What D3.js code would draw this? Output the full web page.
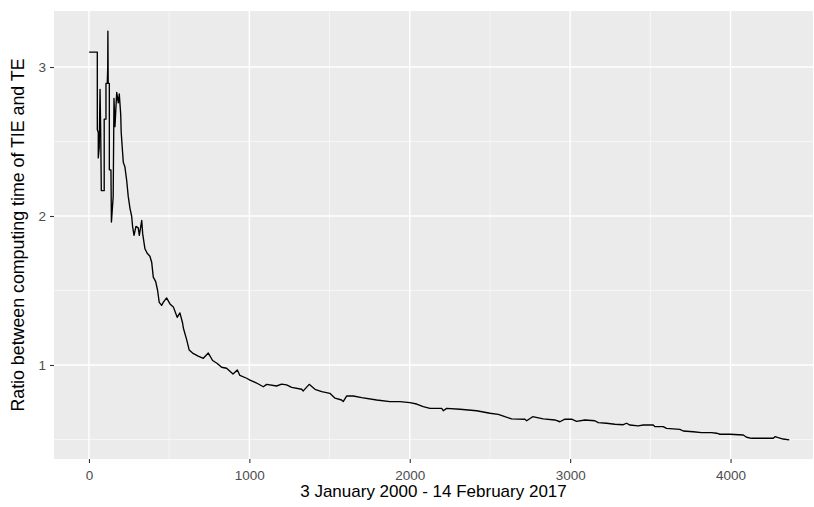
<!DOCTYPE html>
<html>
<head>
<meta charset="utf-8">
<script src="https://cdn.jsdelivr.net/npm/d3@7"></script>
<style>
  body { margin: 0; background: #ffffff; }
  text { font-family: Arial, "Liberation Sans", sans-serif; }
</style>
</head>
<body>
<div id="canvas"></div>
<script>
  // day index (trading days since 3 Jan 2000)
  var days = [
    1, 52, 52, 58, 58, 64, 69, 73, 77, 95, 95, 106, 106, 114, 117, 118, 120, 127, 127, 137,
    140, 151, 156, 162, 173, 183, 189, 198, 201, 214, 224, 235, 245, 256, 266, 272, 281, 293, 307, 314,
    329, 335, 349, 363, 380, 391, 401, 416, 428, 438, 453, 463, 484, 505, 526, 550, 567, 584, 588, 609,
    625, 646, 681, 713, 744, 771, 800, 827, 858, 898, 925, 941, 983, 1004, 1045, 1087, 1108, 1170, 1201, 1232,
    1264, 1326, 1336, 1373, 1409, 1451, 1502, 1534, 1575, 1585, 1607, 1648, 1700, 1794, 1876, 1939, 2001, 2043, 2084, 2126,
    2199, 2209, 2230, 2313, 2417, 2500, 2552, 2593, 2635, 2718, 2729, 2766, 2832, 2905, 2936, 2967, 3009, 3040, 3092, 3154,
    3175, 3227, 3279, 3331, 3352, 3373, 3424, 3456, 3518, 3529, 3580, 3601, 3684, 3705, 3767, 3820, 3882, 3913, 3934, 3996,
    4079, 4100, 4131, 4266, 4277, 4297, 4328, 4366
  ];

  // ratio TIE / TE for each day above
  var ratio = [
    3.10, 3.10, 2.58, 2.56, 2.39, 2.46, 2.85, 2.58, 2.17, 2.17, 2.65, 2.65, 2.89, 2.89, 3.00, 3.24, 2.89, 2.89, 2.31, 2.31,
    1.96, 2.13, 2.79, 2.60, 2.83, 2.76, 2.82, 2.68, 2.56, 2.36, 2.33, 2.24, 2.13, 2.05, 2.00, 1.93, 1.87, 1.93, 1.92, 1.87,
    1.97, 1.88, 1.78, 1.75, 1.73, 1.69, 1.59, 1.56, 1.50, 1.42, 1.40, 1.42, 1.45, 1.41, 1.39, 1.32, 1.35, 1.28, 1.25, 1.17,
    1.10, 1.08, 1.06, 1.045, 1.08, 1.03, 1.01, 0.985, 0.978, 0.94, 0.966, 0.93, 0.911, 0.899, 0.879, 0.854, 0.87, 0.859, 0.872, 0.866,
    0.85, 0.837, 0.826, 0.87, 0.837, 0.821, 0.81, 0.777, 0.765, 0.754, 0.792, 0.792, 0.781, 0.765, 0.754, 0.754, 0.747, 0.738, 0.72, 0.709,
    0.709, 0.693, 0.709, 0.703, 0.693, 0.676, 0.669, 0.653, 0.638, 0.636, 0.626, 0.653, 0.638, 0.631, 0.619, 0.636, 0.636, 0.622, 0.631, 0.626,
    0.613, 0.609, 0.602, 0.599, 0.609, 0.597, 0.591, 0.597, 0.597, 0.586, 0.586, 0.575, 0.568, 0.557, 0.552, 0.546, 0.546, 0.542, 0.535, 0.535,
    0.530, 0.515, 0.508, 0.508, 0.519, 0.512, 0.503, 0.497
  ];

  var xTicks = [0, 1000, 2000, 3000, 4000];
  var xMinor = [500, 1500, 2500, 3500];
  var yTicks = [1, 2, 3];
  var yMinor = [0.5, 1.5, 2.5];

  var xTitle = "3 January 2000 - 14 February 2017";
  var yTitle = "Ratio between computing time of TIE and TE";

  var width = 814, height = 507;
  var panel = {left: 54, right: 813, top: 11, bottom: 459};

  var svg = d3.select("#canvas").append("svg")
    .attr("width", width)
    .attr("height", height);

  var x = d3.scaleLinear().domain([-218, 4514]).range([panel.left, panel.right]);
  var y = d3.scaleLinear().domain([0.369, 3.376]).range([panel.bottom, panel.top]);

  // grey panel
  svg.append("rect")
    .attr("x", panel.left).attr("y", panel.top)
    .attr("width", panel.right - panel.left)
    .attr("height", panel.bottom - panel.top)
    .style("fill", "#ebebeb");

  // minor grid
  svg.selectAll(".xminor").data(xMinor).enter().append("line")
    .attr("x1", function(d){ return x(d); }).attr("x2", function(d){ return x(d); })
    .attr("y1", panel.top).attr("y2", panel.bottom)
    .style("stroke", "#fafafa").style("stroke-width", 0.7);
  svg.selectAll(".yminor").data(yMinor).enter().append("line")
    .attr("y1", function(d){ return y(d); }).attr("y2", function(d){ return y(d); })
    .attr("x1", panel.left).attr("x2", panel.right)
    .style("stroke", "#fafafa").style("stroke-width", 0.7);

  // major grid
  svg.selectAll(".xmajor").data(xTicks).enter().append("line")
    .attr("x1", function(d){ return x(d); }).attr("x2", function(d){ return x(d); })
    .attr("y1", panel.top).attr("y2", panel.bottom)
    .style("stroke", "#ffffff").style("stroke-width", 1.4);
  svg.selectAll(".ymajor").data(yTicks).enter().append("line")
    .attr("y1", function(d){ return y(d); }).attr("y2", function(d){ return y(d); })
    .attr("x1", panel.left).attr("x2", panel.right)
    .style("stroke", "#ffffff").style("stroke-width", 1.4);

  // axes (ggplot look: short dark ticks, grey labels, no domain line)
  var xAxis = svg.append("g")
    .attr("transform", "translate(0," + panel.bottom + ")")
    .call(d3.axisBottom(x).tickValues(xTicks).tickSize(4).tickPadding(7).tickFormat(d3.format("d")));
  var yAxis = svg.append("g")
    .attr("transform", "translate(" + panel.left + ",0)")
    .call(d3.axisLeft(y).tickValues(yTicks).tickSize(4).tickPadding(4).tickFormat(d3.format("d")));

  [xAxis, yAxis].forEach(function(a){
    a.select(".domain").remove();
    a.selectAll(".tick line").style("stroke", "#333333").style("stroke-width", 1.1);
    a.selectAll(".tick text")
      .style("fill", "#4d4d4d")
      .style("font-size", "13.5px")
      .style("font-family", "Arial, 'Liberation Sans', sans-serif");
  });

  // the ratio line
  var pts = days.map(function(d, i){ return [d, ratio[i]]; });
  var line = d3.line()
    .x(function(d){ return x(d[0]); })
    .y(function(d){ return y(d[1]); });

  svg.append("path")
    .datum(pts)
    .attr("d", line)
    .style("fill", "none")
    .style("stroke", "#000000")
    .style("stroke-width", 1.35)
    .style("stroke-linejoin", "round");

  // titles
  svg.append("text")
    .attr("x", (panel.left + panel.right) / 2)
    .attr("y", 497)
    .attr("text-anchor", "middle")
    .style("font-size", "17px")
    .style("fill", "#000000")
    .text(xTitle);

  svg.append("text")
    .attr("transform", "translate(24," + ((panel.top + panel.bottom) / 2) + ") rotate(-90)")
    .attr("text-anchor", "middle")
    .style("font-size", "17.8px")
    .style("fill", "#000000")
    .text(yTitle);
</script>
</body>
</html>
